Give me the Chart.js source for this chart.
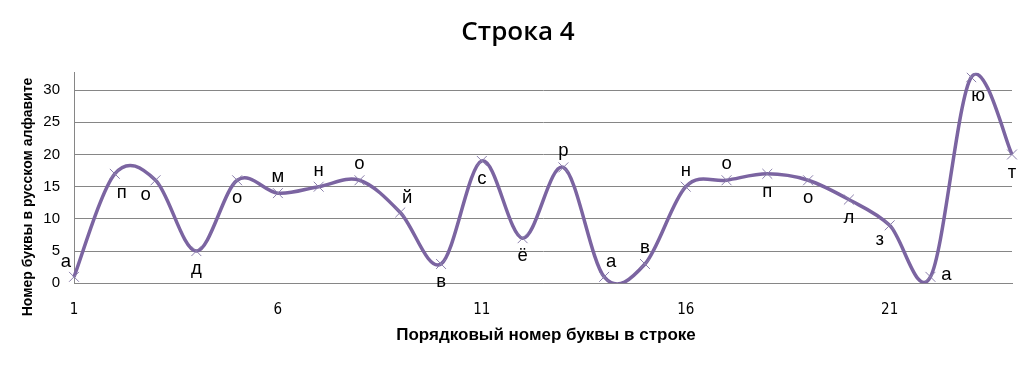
<!DOCTYPE html>
<html>
<head>
<meta charset="utf-8">
<script src="https://cdn.jsdelivr.net/npm/chart.js@4"></script>
<style>
  html, body { margin: 0; padding: 0; background: #fff; }
  #wrap { width: 1035px; height: 366px; }
</style>
</head>
<body>
<div id="wrap"><canvas id="chart" width="1035" height="366"></canvas></div>
<script>
// ========== Data ==========
const positions = ["1","2","3","4","5","6","7","8","9","10","11","12","13","14","15","16","17","18","19","20","21","22","23","24"];
const letters = ["а","п","о","д","о","м","н","о","й","в","с","ё","р","а","в","н","о","п","о","л","з","а","ю","т"];
const alphabetNumbers = [1, 17, 16, 5, 16, 14, 15, 16, 11, 3, 19, 7, 18, 1, 3, 15, 16, 17, 16, 13, 9, 1, 32, 20];
const yTicks = [0, 5, 10, 15, 20, 25, 30];

const chartTitle = "Строка 4";
const xTitle = "Порядковый номер буквы в строке";
const yTitle = "Номер буквы в русском алфавите";

// where each letter sits relative to its point
const labelPlace = ["upleft","downright","downleft","down","down","up","up","up","upright","down",
                    "down","down","up","upright","up","up","up","down","down","down",
                    "downleft","right","downright","down"];

const lineColor = "#7b64a1";
const markColor = "#8a7fab";
const FONT = "'Liberation Sans', Arial, sans-serif";

// Excel-style smoothing: plain Catmull-Rom handles (1/6 of neighbour span)
const excelSmooth = {
  id: "excelSmooth",
  beforeDatasetsDraw(chart) {
    const meta = chart.getDatasetMeta(0);
    meta.dataset.updateControlPoints(chart.chartArea, "x");
    const pts = meta.data;
    pts.forEach((p, i) => {
      const prev = pts[i - 1] || p;
      const next = pts[i + 1] || p;
      const dx = (next.x - prev.x) / 6;
      const dy = (next.y - prev.y) / 6;
      p.cp1x = p.x - dx; p.cp1y = p.y - dy;
      p.cp2x = p.x + dx; p.cp2y = p.y + dy;
    });
  }
};

// titles + letter next to every point
const textLayer = {
  id: "textLayer",
  afterDraw(chart) {
    const ctx = chart.ctx;
    const meta = chart.getDatasetMeta(0);
    ctx.save();
    ctx.fillStyle = "#000";
    ctx.textAlign = "center";
    ctx.textBaseline = "middle";

    ctx.font = "18.5px " + FONT;
    meta.data.forEach((pt, i) => {
      let dx = 0, dy = 0;
      switch (labelPlace[i]) {
        case "up": dy = -16; break;
        case "down": dy = 18; break;
        case "upleft": dx = -8; dy = -15; break;
        case "upright": dx = 7; dy = -15; break;
        case "downleft": dx = -10; dy = 15; break;
        case "downright": dx = 7; dy = 19; break;
        case "right": dx = 16; dy = -2; break;
      }
      ctx.fillText(letters[i], pt.x + dx, pt.y + dy);
    });

    // chart title
    ctx.font = "600 26px 'Open Sans', sans-serif";
    ctx.fillText(chartTitle, 518, 33);

    // x axis title
    ctx.font = "bold 17px " + FONT;
    ctx.fillText(xTitle, 546, 335);

    // y axis title (rotated)
    ctx.translate(28, 197);
    ctx.rotate(-Math.PI / 2);
    ctx.font = "bold 14px " + FONT;
    ctx.fillText(yTitle, 0, 0);
    ctx.restore();
  }
};

new Chart(document.getElementById("chart"), {
  type: "line",
  data: {
    labels: positions,
    datasets: [{
      data: alphabetNumbers,
      borderColor: lineColor,
      borderWidth: 3.5,
      tension: 0.4,
      cubicInterpolationMode: "default",
      pointStyle: "crossRot",
      pointRadius: 7,
      pointBorderWidth: 1,
      pointBorderColor: markColor,
      pointBackgroundColor: markColor
    }]
  },
  options: {
    responsive: false,
    animation: false,
    devicePixelRatio: 1,
    layout: { padding: { left: 0, right: 23, top: 72.7, bottom: 0 } },
    elements: { line: { capBezierPoints: false } },
    plugins: {
      legend: { display: false },
      tooltip: { enabled: false },
      title: { display: false }
    },
    scales: {
      x: {
        offset: false,
        grid: { display: false, drawTicks: false },
        border: { display: true, color: "#868686", width: 1 },
        ticks: {
          autoSkip: false,
          maxRotation: 0,
          padding: 18,
          color: "#000",
          font: { family: "'Liberation Sans Narrow', 'DejaVu Sans Condensed', sans-serif", size: 15 },
          callback: (v, i) => (i % 5 === 0 ? positions[i] : "")
        },
        afterFit: s => { s.height = 82.7; }
      },
      y: {
        min: 0,
        max: 32.7,
        afterBuildTicks: s => { s.ticks = yTicks.map(v => ({ value: v })); },
        grid: { color: "#868686", lineWidth: 1, drawTicks: false },
        border: { display: true, color: "#868686", width: 1 },
        ticks: {
          padding: 14,
          color: "#000",
          font: { family: FONT, size: 15 }
        },
        afterFit: s => { s.width = 74; }
      }
    }
  },
  plugins: [excelSmooth, textLayer]
});
</script>
</body>
</html>
